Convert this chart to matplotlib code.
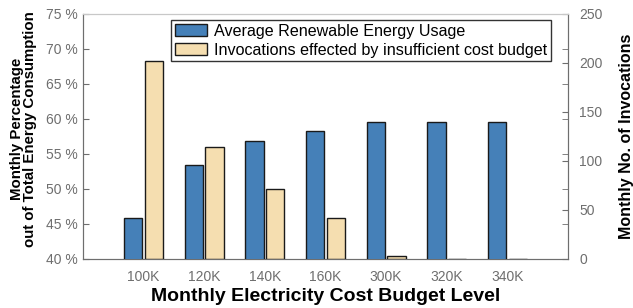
import matplotlib.pyplot as plt
import numpy as np

plt.rcParams['font.family'] = ['Liberation Sans', 'DejaVu Sans']

budgets = ['100K', '120K', '140K', '160K', '300K', '320K', '340K']
renewable_pct = [45.9, 53.4, 56.8, 58.2, 59.5, 59.5, 59.5]
invocations = [202, 114, 71.5, 41.5, 3, 0.5, 0.5]

blue = '#4580b8'
beige = '#f5deb0'
gray = '#6e6e6e'

fig = plt.figure(figsize=(6.33, 3.08), dpi=100)
ax = fig.add_axes([83 / 633, 1 - 259 / 308, (568 - 83) / 633, (259 - 13.5) / 308])
ax2 = ax.twinx()

x = np.arange(1, len(budgets) + 1)
w = 0.3
b1 = ax.bar(x - 0.17, renewable_pct, w, color=blue, edgecolor='#1a1a1a', linewidth=1,
            label='Average Renewable Energy Usage', zorder=3)
b2 = ax2.bar(x + 0.17, invocations, w, color=beige, edgecolor='#1a1a1a', linewidth=1,
             label='Invocations effected by insufficient cost budget', zorder=3)

ax.set_xlim(0, 8)
ax.set_ylim(40, 75)
ax2.set_ylim(0, 250)
ax.set_xticks(x)
ax.set_xticklabels(budgets)
ax.set_yticks(np.arange(40, 76, 5))
ax.set_yticklabels([f'{v} %' for v in range(40, 76, 5)])
ax2.set_yticks(np.arange(0, 251, 50))
# left-axis tick positions also marked on the right spine
ax2.set_yticks([(v - 40) / 35 * 250 for v in range(40, 76, 5)], minor=True)

ax.tick_params(axis='x', length=0, pad=8, labelsize=10, labelcolor=gray)
ax.tick_params(axis='y', direction='in', length=4, labelsize=10, labelcolor=gray, color=gray)
ax2.tick_params(axis='y', which='both', direction='in', length=4, labelsize=10,
                labelcolor=gray, color=gray, pad=8)
ax2.tick_params(axis='x', length=0)

for a in (ax, ax2):
    for side in ('left', 'right', 'bottom'):
        a.spines[side].set_color(gray)
    a.spines['top'].set_color('#c8c8c8')

ax.set_xlabel('Monthly Electricity Cost Budget Level', fontsize=14, fontweight='bold', labelpad=3)
ax.set_ylabel('Monthly Percentage\nout of Total Energy Consumption', fontsize=10.8,
              fontweight='bold', linespacing=0.9)
ax.yaxis.set_label_coords(-0.095, 0.53)
ax2.set_ylabel('Monthly No. of Invocations', fontsize=11.5, fontweight='bold', labelpad=12)

leg = ax.legend([b1, b2], [b1.get_label(), b2.get_label()], loc='upper left',
                bbox_to_anchor=((171 - 83) / 485, 1 - (20 - 13.5) / 245.5),
                fontsize=11.6, frameon=True, fancybox=False, edgecolor='black',
                handlelength=2.0, handleheight=0.7, borderpad=0.22, labelspacing=0.25,
                handletextpad=0.45, borderaxespad=0)
leg.get_frame().set_linewidth(1)
leg.set_zorder(5)
ax.set_zorder(ax2.get_zorder() + 1)
ax.patch.set_visible(False)

fig.savefig('out.png', dpi=100)
